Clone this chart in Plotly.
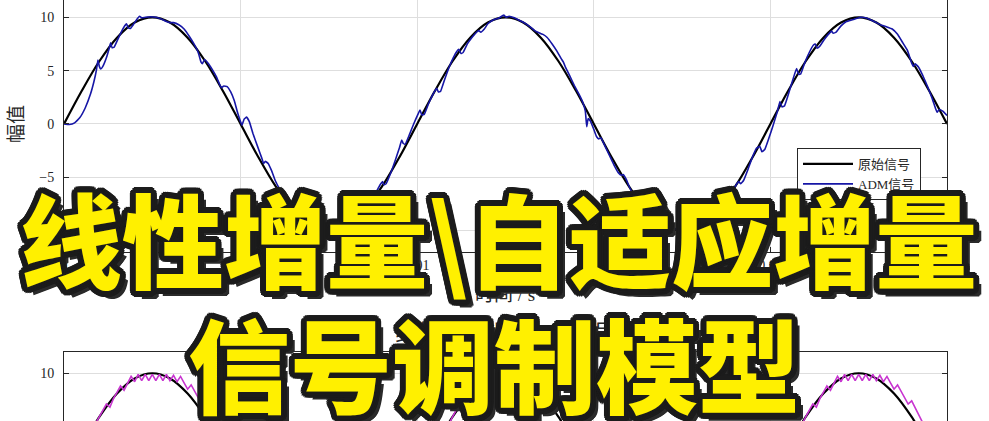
import math
import plotly.graph_objects as go

# ---------------- data (time in ms) ----------------
sine_t_ms = [0.0, 0.5, 1.0, 1.5, 2.0, 2.5, 3.0, 3.5, 4.0, 4.5,
             5.0, 5.5, 6.0, 6.5, 7.0, 7.5, 8.0, 8.5, 9.0, 9.5,
             10.0, 10.5, 11.0, 11.5, 12.0, 12.5, 13.0, 13.5, 14.0, 14.5,
             15.0, 15.5, 16.0, 16.5, 17.0, 17.5, 18.0, 18.5, 19.0, 19.5,
             20.0, 20.5, 21.0, 21.5, 22.0, 22.5, 23.0, 23.5, 24.0, 24.5, 25.0]
sine_v = [0, 3.09, 5.88, 8.09, 9.51, 10, 9.51, 8.09, 5.88, 3.09,
          0, -3.09, -5.88, -8.09, -9.51, -10, -9.51, -8.09, -5.88, -3.09,
          0, 3.09, 5.88, 8.09, 9.51, 10, 9.51, 8.09, 5.88, 3.09,
          0, -3.09, -5.88, -8.09, -9.51, -10, -9.51, -8.09, -5.88, -3.09,
          0, 3.09, 5.88, 8.09, 9.51, 10, 9.51, 8.09, 5.88, 3.09, 0]

adm_t_ms = [0.0, 0.15, 0.3, 0.45, 0.6, 0.75, 0.85, 0.92, 0.96, 1.0, 1.04, 1.1, 1.2, 1.28, 1.32, 1.36, 1.42,
            1.52, 1.62, 1.72, 1.77, 1.82, 1.88, 1.96, 2.06, 2.14, 2.2, 2.3, 2.45, 2.6,
            2.75, 2.9, 3.0, 3.1, 3.25, 3.4, 3.55, 3.68, 3.8, 3.88, 3.92, 3.98, 4.08, 4.2, 4.32, 4.42,
            4.46, 4.52, 4.62, 4.72, 4.82, 4.92, 5.0, 5.04, 5.1, 5.17, 5.25, 5.35, 5.48, 5.6, 5.65,
            5.7, 5.78, 5.88, 5.98, 6.07, 6.15, 6.3, 6.4, 6.5, 6.6, 6.75, 6.9, 7.0, 7.1, 7.25, 7.4,
            7.5, 7.6,
            7.75, 7.9, 8.05, 8.2, 8.35, 8.5, 8.6, 8.7, 8.8, 8.9, 8.95, 9.02, 9.06, 9.12, 9.25, 9.38,
            9.5, 9.56, 9.6, 9.66, 9.78, 9.9, 10.02, 10.08, 10.13, 10.2, 10.32, 10.45, 10.55, 10.6,
            10.66, 10.78, 10.9, 11.02, 11.12, 11.18, 11.24, 11.3, 11.42, 11.55, 11.68, 11.74, 11.8,
            11.9, 12.0, 12.15, 12.3, 12.45, 12.52, 12.6, 12.75,
            12.9, 13.05, 13.2, 13.35, 13.48, 13.56, 13.68, 13.82, 13.96, 14.08, 14.14, 14.2, 14.32,
            14.45, 14.58, 14.68, 14.76, 14.8, 14.84, 14.9, 15.0, 15.08, 15.14, 15.2, 15.32, 15.45,
            15.58, 15.7, 15.78, 15.84, 15.92, 16.02, 16.12, 16.3, 16.45, 16.55, 16.7, 16.85, 17.0,
            17.1, 17.25, 17.4, 17.55, 17.7,
            17.85, 18.0, 18.1, 18.25, 18.4, 18.55, 18.65, 18.75, 18.85, 18.95, 19.05, 19.1, 19.16,
            19.24, 19.36, 19.48, 19.6, 19.7, 19.76, 19.84, 19.96, 20.08, 20.2, 20.27, 20.33, 20.4,
            20.52, 20.64, 20.74, 20.8, 20.86, 20.98, 21.1, 21.22, 21.27, 21.32, 21.4, 21.52, 21.64,
            21.73, 21.78, 21.86, 22.0, 22.15, 22.3, 22.45, 22.55, 22.7, 22.85,
            23.0, 23.15, 23.3, 23.45, 23.6, 23.75, 23.88, 24.0, 24.05, 24.1, 24.2, 24.32, 24.45,
            24.58, 24.68, 24.72, 24.78, 24.88, 25.0]
adm_v = [0.0, -0.05, 0.1, 0.6, 1.5, 2.8, 4.0, 5.1, 6.0, 5.4, 5.15, 5.4, 6.2, 7.1, 7.6, 7.15, 7.2,
         7.9, 8.6, 9.2, 9.4, 9.0, 8.95, 9.3, 9.8, 10.1, 9.95, 10.0, 10.05, 10.0,
         9.85, 9.6, 9.5, 9.5, 9.3, 8.9, 8.2, 7.5, 6.7, 5.8, 5.65, 6.05, 5.7, 5.1, 4.4, 3.6,
         3.4, 3.55, 3.5, 3.0, 2.2, 1.0, 0.2, -0.1, 0.45, 0.65, 0.2, -0.9, -2.1, -3.2, -3.7,
         -3.5, -3.7, -4.4, -5.3, -5.9, -6.4, -7.0, -7.6, -7.3, -7.6, -8.4, -9.0, -9.3, -9.1, -9.5, -9.9,
         -10.05, -10.0,
         -9.85, -9.5, -9.4, -9.2, -8.7, -8.0, -7.4, -7.0, -6.6, -6.0, -5.7, -5.4, -5.7, -5.6, -4.6, -3.4,
         -2.2, -1.5, -1.8, -1.9, -1.0, 0.0, 0.9, 1.3, 0.85, 0.9, 1.9, 2.8, 3.35, 3.0,
         3.05, 4.2, 5.3, 6.2, 6.8, 7.0, 6.6, 6.7, 7.5, 8.1, 8.6, 8.75, 8.6,
         8.9, 9.4, 9.75, 9.9, 10.2, 10.0, 10.1, 9.95,
         9.7, 9.45, 9.1, 8.7, 8.5, 8.4, 8.1, 7.5, 6.8, 6.1, 5.8, 5.3, 4.5,
         3.6, 2.8, 2.1, 1.2, -0.25, 0.5, 0.3, -0.5, -1.2, -1.4, -1.3, -2.1, -3.0,
         -3.9, -4.6, -4.8, -4.75, -5.2, -6.0, -6.6, -7.3, -7.8, -7.7, -8.3, -9.0, -9.4,
         -9.3, -9.7, -10.0, -10.05, -9.95,
         -9.7, -9.3, -9.2, -8.8, -8.1, -7.4, -7.0, -7.1, -6.7, -6.2, -5.6, -5.4, -5.6,
         -5.3, -4.3, -3.2, -2.3, -2.1, -2.6, -2.4, -1.3, -0.1, 1.2, 2.1, 1.6, 1.7,
         2.9, 4.2, 5.2, 4.65, 4.7, 5.8, 6.7, 7.4, 7.5, 7.1, 7.3, 7.9, 8.4,
         8.7, 8.5, 8.6, 9.2, 9.6, 9.75, 9.9, 10.0, 9.95, 9.75,
         9.5, 9.25, 9.1, 8.9, 8.4, 7.6, 6.9, 5.7, 5.4, 5.65, 5.3, 4.5, 3.5,
         2.4, 1.4, 1.1, 1.35, 1.2, 0.8]

ldm_t_ms = [0.0, 0.5,
            0.9, 1.0, 1.1, 1.2, 1.3, 1.4, 1.5, 1.6, 1.7, 1.8, 1.9, 2.0, 2.1, 2.2, 2.3, 2.4, 2.5,
            2.6, 2.7, 2.8, 2.9, 3.0, 3.1, 3.2, 3.3, 3.4, 3.5, 3.6, 3.7, 3.8, 3.9, 4.0, 4.1, 4.2,
            4.3, 4.4, 4.5,
            5.0, 5.5, 6.0, 6.5, 7.0, 7.5, 8.0, 8.5, 9.0, 9.5, 10.0, 10.5,
            10.9, 11.0, 11.1, 11.2, 11.3, 11.4, 11.5, 11.6, 11.7, 11.8, 11.9, 12.0, 12.1, 12.2,
            12.3, 12.4, 12.5, 12.6, 12.7, 12.8, 12.9, 13.0, 13.1, 13.2, 13.3, 13.4, 13.5, 13.6,
            13.7, 13.8, 13.9, 14.0, 14.1, 14.2, 14.3, 14.4, 14.5,
            15.0, 15.5, 16.0, 16.5, 17.0, 17.5, 18.0, 18.5, 19.0, 19.5, 20.0, 20.5,
            20.9, 21.0, 21.1, 21.2, 21.3, 21.4, 21.5, 21.6, 21.7, 21.8, 21.9, 22.0, 22.1, 22.2,
            22.3, 22.4, 22.5, 22.6, 22.7, 22.8, 22.9, 23.0, 23.1, 23.2, 23.3, 23.4, 23.5, 23.6,
            23.7, 23.8, 23.9, 24.0, 24.1, 24.2, 24.3, 24.4, 24.5, 25.0]
ldm_v = [0.0, 2.6,
         5.3, 5.9, 6.5, 7.1, 6.8, 7.6, 8.2, 8.8, 8.4, 9.1, 9.7, 9.2, 9.9, 9.3, 9.9, 9.3, 9.9,
         9.3, 9.9, 9.3, 9.9, 9.3, 9.8, 9.2, 9.7, 9.1, 8.5, 8.9, 8.3, 7.7, 7.1, 7.4, 6.8, 6.2,
         5.6, 5.0, 4.4,
         1.0, -2.0, -5.0, -7.4, -9.0, -9.6, -9.4, -8.2, -6.2, -3.6, -0.6, 2.4,
         5.3, 5.9, 6.5, 7.1, 6.8, 7.6, 8.2, 8.8, 8.4, 9.1, 9.7, 9.2, 9.9, 9.3,
         9.9, 9.3, 9.9, 9.3, 9.9, 9.3, 9.9, 9.3, 9.8, 9.2, 9.7, 9.1, 8.5, 8.9,
         8.3, 7.7, 7.1, 7.4, 6.8, 6.2, 5.6, 5.0, 4.4,
         1.0, -2.0, -5.0, -7.4, -9.0, -9.6, -9.4, -8.2, -6.2, -3.6, -0.6, 2.4,
         5.3, 5.9, 6.5, 7.1, 6.8, 7.6, 8.2, 8.8, 8.4, 9.1, 9.7, 9.2, 9.9, 9.3,
         9.9, 9.3, 9.9, 9.3, 9.9, 9.3, 9.9, 9.3, 9.8, 9.2, 9.7, 9.1, 8.5, 8.9,
         8.3, 7.7, 7.1, 7.4, 6.8, 6.2, 5.6, 5.0, 4.4, 0.8]

x_tickvals = [0, 0.005, 0.01, 0.015, 0.02, 0.025]
x_ticktext = ["0", "0.005", "0.01", "0.015", "0.02", "0.025"]
y_tickvals = [-10, -5, 0, 5, 10]

legend_names = ["原始信号", "ADM信号"]
x_title = "时间 / s"
y_title = "幅值"
bottom_title = "线性增量调制DM信号"
banner_line1 = "线性增量\\自适应增量"
banner_line2 = "信号调制模型"

# ---------------- figure ----------------
W, H = 989, 421
ML, MR = 64, 42
PW = W - ML - MR


def px_x(p):
    return (p - ML) / PW


def px_y(p):
    return 1 - p / H


def ms(ts):
    return [t / 1000.0 for t in ts]


fig = go.Figure()
fig.add_trace(go.Scatter(x=ms(sine_t_ms), y=sine_v, mode="lines", name=legend_names[0],
                         line=dict(color="#000000", width=2.2, shape="spline"),
                         xaxis="x", yaxis="y"))
fig.add_trace(go.Scatter(x=ms(adm_t_ms), y=adm_v, mode="lines", name=legend_names[1],
                         line=dict(color="#1616A6", width=1.6, shape="spline", smoothing=0.3),
                         xaxis="x", yaxis="y"))
fig.add_trace(go.Scatter(x=ms(sine_t_ms), y=sine_v, mode="lines", showlegend=False,
                         line=dict(color="#000000", width=2.2, shape="spline"),
                         xaxis="x2", yaxis="y2"))
fig.add_trace(go.Scatter(x=ms(ldm_t_ms), y=ldm_v, mode="lines", showlegend=False,
                         line=dict(color="#C835D0", width=1.6),
                         xaxis="x2", yaxis="y2"))

tickfont = dict(family="Liberation Serif, Noto Sans CJK SC", size=14, color="#262626")
grid = "#DEDEDE"
common_x = dict(range=[0, 0.025], tickvals=x_tickvals, ticktext=x_ticktext, showgrid=True,
                gridcolor=grid, gridwidth=1, zeroline=False, linecolor="#262626", linewidth=1,
                ticks="inside", ticklen=5, tickcolor="#262626", tickfont=tickfont)
common_y = dict(tickvals=y_tickvals, showgrid=True, gridcolor=grid, gridwidth=1, zeroline=False,
                linecolor="#262626", linewidth=1, ticks="inside", ticklen=5, tickcolor="#262626",
                tickfont=tickfont, mirror="ticks", showline=True, ticklabelstandoff=6)

top_dom = [px_y(252), 1.0]
bot_dom = [0.0, px_y(352)]

outline = []
for r in (2.0, 4.0, 6.0):
    for k in range(20):
        a = 2 * math.pi * k / 20
        outline.append(f"{r*math.cos(a):.1f}px {r*math.sin(a):.1f}px 0 #1c1c1c")
outline.append("7px 7px 0 #2a2a2a")
outline.append("6px 8px 0 #2a2a2a")
outline.append("8px 6px 0 #2a2a2a")
shadow = ", ".join(outline)

banner_font = dict(family="Noto Sans CJK SC", size=102, color="#FFF000", weight=900, shadow=shadow)
label_font = dict(family="Liberation Serif, Noto Sans CJK SC", size=19, color="#262626")
title_font = dict(family="Liberation Serif, Noto Sans CJK SC", size=23, color="#262626")

fig.update_layout(
    width=W, height=H,
    margin=dict(l=ML, r=MR, t=0, b=0),
    paper_bgcolor="white", plot_bgcolor="white",
    xaxis=dict(common_x, domain=[0, 1], anchor="y", showline=True, mirror=False),
    yaxis=dict(common_y, domain=top_dom, anchor="x", range=[-12, 11.62]),
    xaxis3=dict(range=[0, 0.025], tickvals=x_tickvals, overlaying="x", side="top", anchor="y",
                showline=False, showgrid=False, zeroline=False, ticks="inside", ticklen=4,
                tickcolor="#262626", showticklabels=False),
    xaxis2=dict(common_x, domain=[0, 1], anchor="y2", side="top", showline=True, mirror=False,
                showticklabels=False),
    yaxis2=dict(common_y, domain=bot_dom, anchor="x2", range=[5.5, 12]),
    showlegend=True,
    legend=dict(x=px_x(797), y=px_y(148), xanchor="left", yanchor="top",
                bgcolor="white", bordercolor="#262626", borderwidth=1,
                font=dict(family="Liberation Serif, Noto Sans CJK SC", size=13, color="#262626"),
                itemwidth=50, tracegroupgap=0),
    annotations=[
        dict(text=x_title, x=px_x(505), y=px_y(294), xref="paper", yref="paper",
             showarrow=False, xanchor="center", yanchor="middle", font=label_font),
        dict(text=y_title, x=px_x(17), y=px_y(124), xref="paper", yref="paper",
             showarrow=False, xanchor="center", yanchor="middle", textangle=-90, font=label_font),
        dict(text=bottom_title, x=px_x(505), y=px_y(333), xref="paper", yref="paper",
             showarrow=False, xanchor="center", yanchor="middle", font=title_font),
        dict(text=banner_line1, x=px_x(498), y=px_y(236), xref="paper", yref="paper",
             showarrow=False, xanchor="center", yanchor="middle", font=banner_font),
        dict(text=banner_line2, x=px_x(494), y=px_y(361), xref="paper", yref="paper",
             showarrow=False, xanchor="center", yanchor="middle", font=banner_font),
    ],
)

fig.write_html("out.html", config={"displayModeBar": False},
               post_script="document.body.style.margin='0';document.body.style.overflow='hidden';")
